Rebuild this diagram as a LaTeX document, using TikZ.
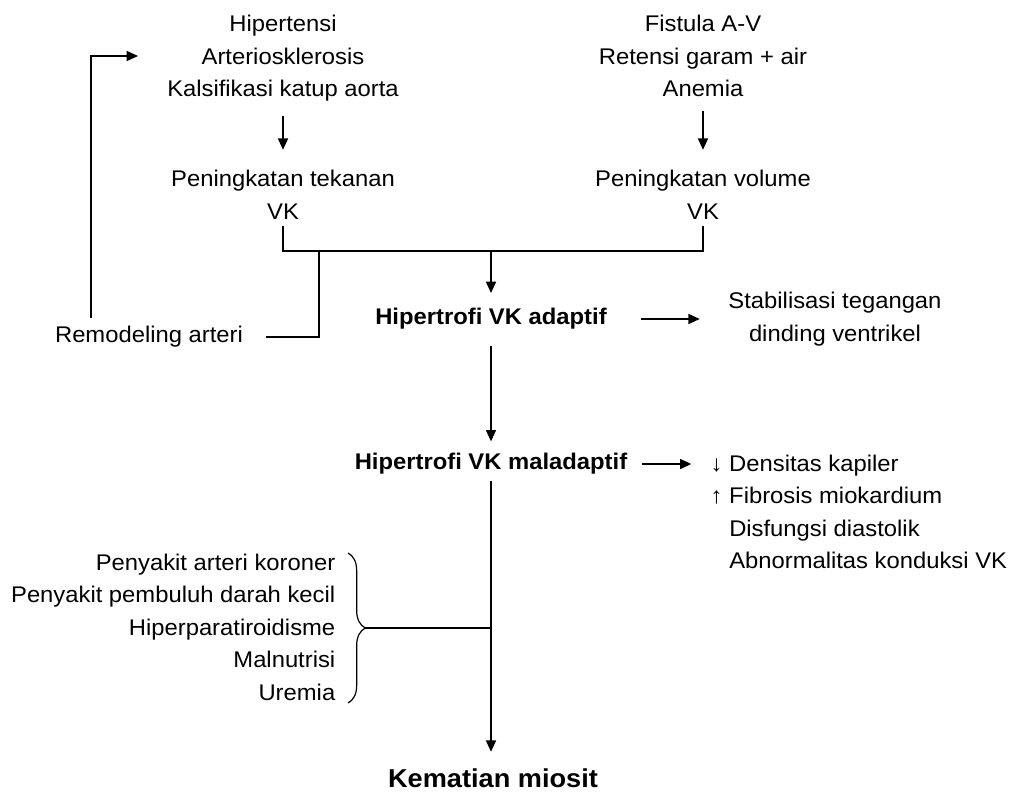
\documentclass[tikz,border=0pt]{standalone}
\usepackage{fontspec}
\setmainfont{Liberation Sans}[FakeStretch=1.05]
\usetikzlibrary{arrows.meta,decorations.pathreplacing}
\tikzset{
	txt/.style={align=center, inner sep=0pt, font=\fontsize{17}{24.4}\selectfont},
	hd/.style={txt, font=\fontsize{17}{24.4}\selectfont\bfseries},
	arr/.style={-{Triangle[length=8.5pt,width=7.5pt]}},
}

\begin{document}
\begin{tikzpicture}[x=0.75pt,y=-0.75pt,line width=1.1pt]
	\useasboundingbox (0,0) rectangle (1014,793);
	\node[txt] (hip) at (283,58.5) {Hipertensi\\Arteriosklerosis\\Kalsifikasi katup aorta};
	\node[txt] (fis) at (703,56) {Fistula A-V\\Retensi garam + air\\Anemia};
	\node[txt] (tek) at (283,195) {Peningkatan tekanan\\VK};
	\node[txt] (vol) at (703,195) {Peningkatan volume\\VK};
	\node[txt] (rem) at (149,337) {Remodeling arteri};
	\node[hd] (ada) at (491,319) {Hipertrofi VK adaptif};
	\node[txt] (stab) at (835,319) {Stabilisasi tegangan\\dinding ventrikel};
	\node[hd] (mal) at (491,464) {Hipertrofi VK maladaptif};
	\node[txt, align=left, anchor=west] (akb) at (710,512) {↓ Densitas kapiler\\↑ Fibrosis miokardium\\\hphantom{↑ }Disfungsi diastolik\\\hphantom{↑ }Abnormalitas konduksi VK};
	\node[txt, align=right, anchor=east] (pny) at (336,627) {Penyakit arteri koroner\\Penyakit pembuluh darah kecil\\Hiperparatiroidisme\\Malnutrisi\\Uremia};
	\node[hd, font=\fontsize{19.4}{24}\selectfont\bfseries] (kem) at (493,778) {Kematian miosit};
	\coordinate (J) at (491,251);
	\coordinate (K) at (319,251);
	\coordinate (up) at (91,313);
	\coordinate (tip) at (138,56);
	\coordinate (brc) at (365,628);

	\draw[arr, shorten <=10pt, shorten >=15pt] (hip) -- (tek);
	\draw[arr, shorten <=10pt, shorten >=15pt] (fis) -- (vol);
	\draw[shorten <=4pt, shorten >=4pt] (tek.south) -- (tek.south |- J) -- (vol.south |- J) -- (vol.south);
	\draw[arr, shorten >=11pt] (J) -- (ada);
	\draw[shorten >=17pt] (K) |- (rem);
	\draw[arr, shorten <=6pt] (rem.north -| up) |- (tip);
	\draw[arr, shorten <=25pt, shorten >=21pt] (ada.east) -- (ada.east -| stab.west);
	\draw[arr, shorten <=11.5pt, shorten >=8.5pt] (ada) -- (mal);
	\draw[arr, shorten <=10.5pt, shorten >=14pt] (mal.east) -- (mal.east -| akb.west);
	\draw[arr, shorten <=4pt, shorten >=12pt] (mal) -- (mal |- kem.north);
	\draw[line width=0.9pt, decorate, decoration={brace, amplitude=13pt}] (348,553) -- (348,703);
	\draw (brc) -- (brc -| mal);
\end{tikzpicture}
\end{document}
